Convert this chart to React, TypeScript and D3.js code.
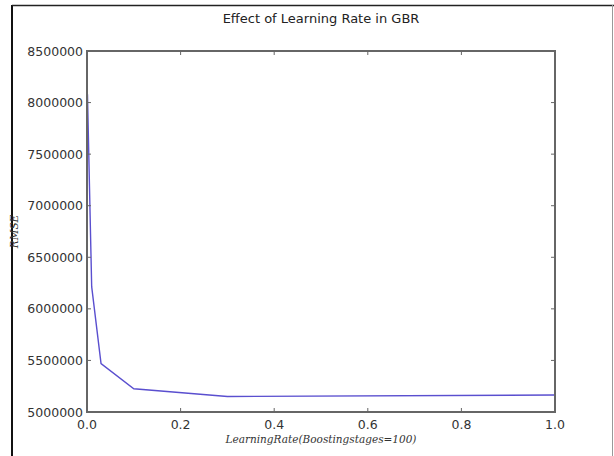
import React from "react";
import * as d3 from "d3";

const learningRates = [0.001, 0.01, 0.03, 0.1, 0.3, 1.0];
const rmseValues = [8080000, 6215000, 5470000, 5225000, 5150000, 5165000];
const xTicks = [0, 0.2, 0.4, 0.6, 0.8, 1.0];
const yTicks = [5000000, 5500000, 6000000, 6500000, 7000000, 7500000, 8000000, 8500000];
const title = "Effect of Learning Rate in GBR";
const xLabel = "LearningRate(Boostingstages=100)";
const yLabel = "RMSE";

const W = 614, H = 456;
const L = 87, R = 555, T = 51, B = 412;

export default function App() {
  const x = d3.scaleLinear().domain([0, 1]).range([L, R]);
  const y = d3.scaleLinear().domain([5000000, 8500000]).range([B, T]);
  const line = d3.line<number>().x((_, i) => x(learningRates[i])).y((d) => y(d));
  const frame = "#666";
  return (
    <svg width={W} height={H} style={{ position: "absolute", left: 0, top: 0, background: "#fff" }}>
      <rect x={0} y={0} width={W} height={H} fill="#fff" />
      <line x1={12} y1={5} x2={12} y2={H} stroke="#111" strokeWidth={2} />
      <line x1={12} y1={5.5} x2={W} y2={5.5} stroke="#222" strokeWidth={1.5} />
      <line x1={612.5} y1={5} x2={612.5} y2={H} stroke="#999" strokeWidth={1} />
      <text x={(L + R) / 2} y={23} textAnchor="middle" fontFamily="DejaVu Sans" fontSize={13} fill="#222">{title}</text>
      <path d={line(rmseValues) || ""} fill="none" stroke="#5a4fcf" strokeWidth={1.4} />
      <rect x={L} y={T} width={R - L} height={B - T} fill="none" stroke={frame} strokeWidth={2} />
      {xTicks.map((t) => (
        <g key={"x" + t}>
          <line x1={x(t)} x2={x(t)} y1={B} y2={B - 4} stroke={frame} />
          <line x1={x(t)} x2={x(t)} y1={T} y2={T + 4} stroke={frame} />
          <text x={x(t)} y={429} textAnchor="middle" fontFamily="DejaVu Sans" fontSize={12.5} fill="#333">{t.toFixed(1)}</text>
        </g>
      ))}
      {yTicks.map((t) => (
        <g key={"y" + t}>
          <line x1={L} x2={L + 4} y1={y(t)} y2={y(t)} stroke={frame} />
          <line x1={R} x2={R - 4} y1={y(t)} y2={y(t)} stroke={frame} />
          <text x={83} y={y(t) + 4.5} textAnchor="end" fontFamily="DejaVu Sans" fontSize={12.5} fill="#333">{t}</text>
        </g>
      ))}
      <text x={(L + R) / 2} y={443} textAnchor="middle" fontFamily="DejaVu Serif" fontStyle="italic" fontSize={10.5} fill="#333">{xLabel}</text>
      <text transform={`translate(18,${(T + B) / 2}) rotate(-90)`} textAnchor="middle" fontFamily="DejaVu Serif" fontStyle="italic" fontSize={10.5} fill="#333">{yLabel}</text>
    </svg>
  );
}
